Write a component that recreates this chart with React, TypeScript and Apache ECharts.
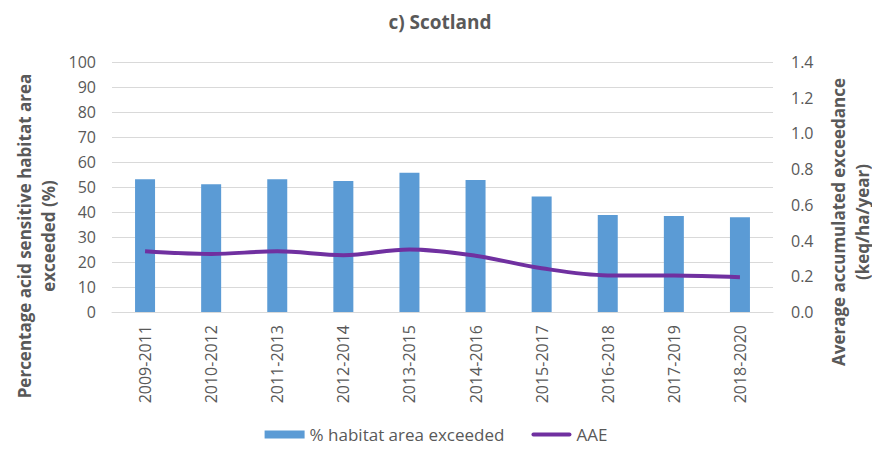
import React, { useEffect, useRef } from "react";
import * as echarts from "echarts";

const categories = [
  "2009-2011", "2010-2012", "2011-2013", "2012-2014", "2013-2015",
  "2014-2016", "2015-2017", "2016-2018", "2017-2019", "2018-2020",
];
const habitatExceeded = [53.1, 51.1, 53.1, 52.4, 55.7, 52.8, 46.2, 38.8, 38.4, 37.9];
const aae = [0.34, 0.325, 0.34, 0.318, 0.35, 0.315, 0.245, 0.205, 0.204, 0.195];
const leftTicks = { min: 0, max: 100, interval: 10 };
const rightTicks = { min: 0, max: 1.4, interval: 0.2 };

const FONT = "'Open Sans', 'Noto Sans', sans-serif";
const GREY = "#595959";

export default function App() {
  const ref = useRef<HTMLDivElement>(null);
  useEffect(() => {
    if (!ref.current) return;
    const chart = echarts.init(ref.current, null, { renderer: "svg" });
    chart.setOption({
      animation: false,
      textStyle: { fontFamily: FONT },
      grid: { left: 112, right: 99, top: 62, bottom: 139, containLabel: false },
      graphic: [
        {
          type: "text", x: 440, y: 22,
          style: { text: "c) Scotland", fill: GREY, font: `bold 19px ${FONT}`, textAlign: "center", textVerticalAlign: "middle" },
        },
        {
          type: "text", x: 24, y: 236, rotation: Math.PI / 2,
          style: { text: "Percentage acid sensitive habitat area", fill: GREY, font: `bold 17px ${FONT}`, textAlign: "center", textVerticalAlign: "middle" },
        },
        {
          type: "text", x: 48, y: 236, rotation: Math.PI / 2,
          style: { text: "exceeded (%)", fill: GREY, font: `bold 17px ${FONT}`, textAlign: "center", textVerticalAlign: "middle" },
        },
        {
          type: "text", x: 838, y: 222, rotation: Math.PI / 2,
          style: { text: "Average accumulated exceedance", fill: GREY, font: `bold 17px ${FONT}`, textAlign: "center", textVerticalAlign: "middle" },
        },
        {
          type: "text", x: 862, y: 222, rotation: Math.PI / 2,
          style: { text: "(keq/ha/year)", fill: GREY, font: `bold 17px ${FONT}`, textAlign: "center", textVerticalAlign: "middle" },
        },
      ],
      legend: {
        bottom: 3,
        left: "center",
        itemWidth: 40,
        itemHeight: 8,
        itemGap: 27,
        textStyle: { color: GREY, fontSize: 17, fontFamily: FONT },
        data: [
          { name: "% habitat area exceeded", icon: "rect" },
          { name: "AAE", icon: "path://M2,3 L38,3 A2,2 0 0 1 38,7 L2,7 A2,2 0 0 1 2,3 Z" },
        ],
      },
      xAxis: {
        type: "category",
        data: categories,
        axisLine: { lineStyle: { color: "#D9D9D9", width: 1 } },
        axisTick: { show: false },
        axisLabel: { rotate: 90, margin: 13, color: GREY, fontSize: 16, fontFamily: FONT },
      },
      yAxis: [
        {
          type: "value",
          ...leftTicks,
          axisLine: { show: false },
          axisTick: { show: false },
          splitLine: { lineStyle: { color: "#D9D9D9", width: 1 } },
          axisLabel: { color: GREY, fontSize: 16, margin: 16, fontFamily: FONT },
        },
        {
          type: "value",
          ...rightTicks,
          position: "right",
          axisLine: { show: false },
          axisTick: { show: false },
          splitLine: { show: false },
          axisLabel: { color: GREY, fontSize: 16, margin: 18, fontFamily: FONT, formatter: (v: number) => v.toFixed(1) },
        },
      ],
      series: [
        {
          name: "% habitat area exceeded",
          type: "bar",
          data: habitatExceeded,
          barWidth: 20,
          itemStyle: { color: "#5B9BD5" },
          yAxisIndex: 0,
        },
        {
          name: "AAE",
          type: "line",
          data: aae,
          yAxisIndex: 1,
          smooth: 0.35,
          symbol: "none",
          lineStyle: { color: "#7030A0", width: 4 },
          itemStyle: { color: "#7030A0" },
        },
      ],
    });
    return () => chart.dispose();
  }, []);
  return <div ref={ref} style={{ width: 872, height: 451, position: "absolute", left: 0, top: 0 }} />;
}
